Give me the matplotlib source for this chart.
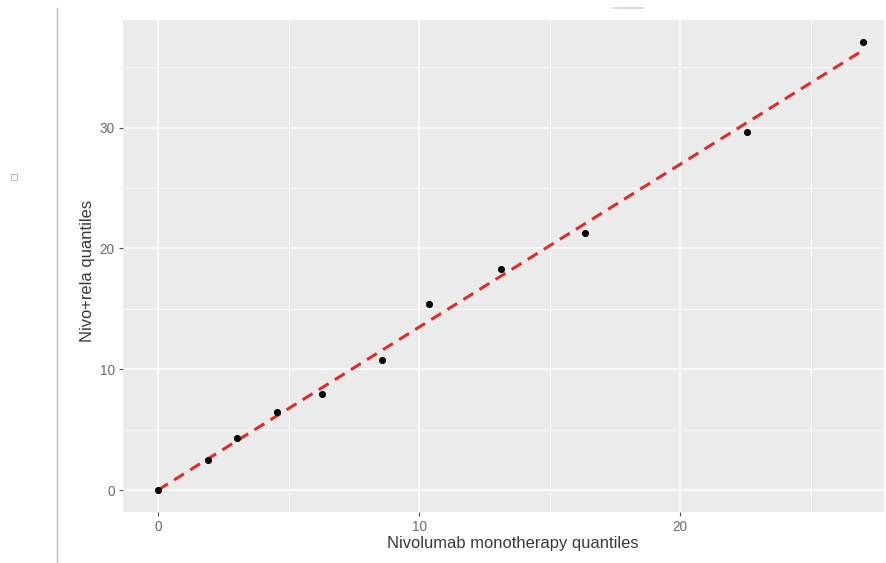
import numpy as np
import matplotlib.pyplot as plt
from matplotlib.patches import Rectangle
from matplotlib.lines import Line2D

# quantiles
mono_q = [0.0, 1.93, 3.01, 4.56, 6.27, 8.59, 10.37, 13.15, 16.36, 22.56, 27.0]
combo_q = [0.0, 2.49, 4.28, 6.44, 7.95, 10.77, 15.41, 18.28, 21.29, 29.63, 37.09]

# fitted reference line through the origin
fit_slope = 1.348
fit_xmax = 26.9

x_ticks = [0, 10, 20]
y_ticks = [0, 10, 20, 30]


def main():
    plt.rcParams['font.family'] = ['Liberation Sans', 'DejaVu Sans']
    fig = plt.figure(figsize=(8.87, 5.63), dpi=100)
    ax = fig.add_axes([0.1387, 0.0906, 0.9966 - 0.1387, 0.9645 - 0.0906])

    ax.set_facecolor('#ebebeb')
    for s in ax.spines.values():
        s.set_visible(False)

    ax.set_xlim(-1.34, 27.8)
    ax.set_ylim(-1.82, 38.9)
    ax.set_xticks(x_ticks)
    ax.set_yticks(y_ticks)
    ax.set_xticks([5, 15, 25], minor=True)
    ax.set_yticks([5, 15, 25, 35], minor=True)
    ax.grid(which='major', color='white', linewidth=1.1)
    ax.grid(which='minor', color='white', linewidth=0.55)
    ax.set_axisbelow(True)
    ax.tick_params(which='major', length=3, width=0.8, color='#555555',
                   labelcolor='#6a6a6a', labelsize=9.8, pad=3)
    ax.tick_params(which='minor', length=0)

    lx = np.array([0, fit_xmax])
    ax.plot(lx, fit_slope * lx, color='#dd2c2c', linewidth=2.2,
            linestyle=(0, (3.8, 2.4)), zorder=2)
    ax.scatter(mono_q, combo_q, s=26, color='black', zorder=3, linewidths=0)

    ax.set_xlabel('Nivolumab monotherapy quantiles', fontsize=11.9,
                  color='#383838')
    ax.set_ylabel('Nivo+rela quantiles', fontsize=11.9, color='#383838')
    ax.xaxis.set_label_coords(0.5125, -0.048)
    ax.yaxis.set_label_coords(-0.037, 0.49)

    # page decorations around the screenshot
    fig.add_artist(Line2D([57 / 887, 57 / 887], [0, 1 - 8 / 563],
                          color='#bbbbbb', linewidth=1))
    fig.add_artist(Line2D([613 / 887, 643 / 887], [1 - 8 / 563, 1 - 8 / 563],
                          color='#c8d8f0', linewidth=1.2))
    fig.add_artist(Rectangle((11 / 887, 1 - 180 / 563), 6 / 887, 6 / 563,
                             fill=False, edgecolor='#aaaaaa', linewidth=0.6))

    fig.savefig('out.png', dpi=100)


if __name__ == "__main__":
    main()
